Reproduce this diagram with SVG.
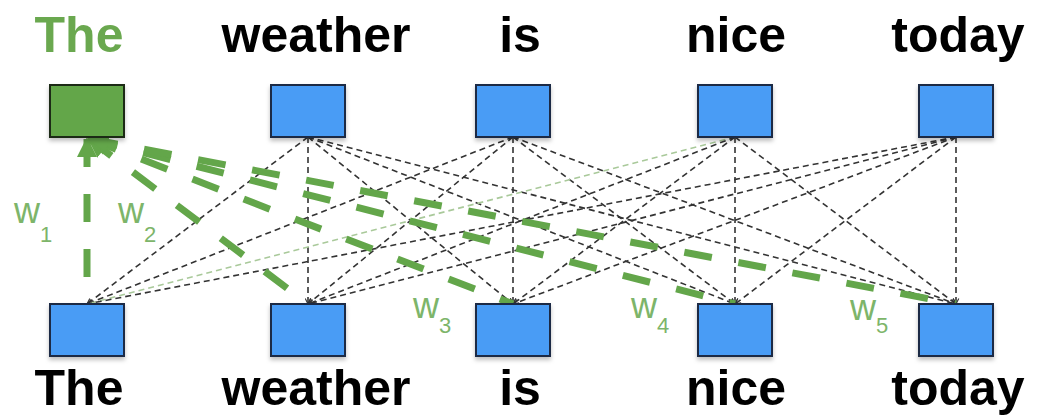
<svg xmlns="http://www.w3.org/2000/svg" width="1038" height="416" viewBox="0 0 1038 416">
  <style>
    .word { font-family: "Liberation Sans", Arial, sans-serif; font-weight: bold; font-size: 50px; text-anchor: middle; fill: #000; }
    .word.focus { fill: #6aa84f; }
    .box { fill: #4a9cf5; stroke: #1b2a45; stroke-width: 2; filter: url(#shadow); }
    .box.focus { fill: #63a64a; stroke: #1c2a18; }
    .link { fill: none; stroke: #333; stroke-width: 1.6; stroke-dasharray: 6 4; marker-end: url(#tip); }
    .link.faint { stroke: #a9c99a; }
    .weight { fill: none; stroke: #63a64a; stroke-width: 7; stroke-dasharray: 28 27; marker-start: url(#head); }
    .wlabel { font-family: "Liberation Sans", Arial, sans-serif; font-size: 36px; fill: #7db56a; }
    .wsub { font-size: 22px; }
  </style>
  <defs>
    <filter id="shadow" x="-20%" y="-20%" width="140%" height="150%">
      <feDropShadow dx="0" dy="3" stdDeviation="2" flood-color="#000" flood-opacity="0.25"/>
    </filter>
    <marker id="tip" viewBox="0 0 10 10" refX="9" refY="5" markerWidth="7" markerHeight="7" markerUnits="userSpaceOnUse" orient="auto">
      <path d="M1,1 L9,5 L1,9" fill="none" stroke="#333" stroke-width="1.6"/>
    </marker>
    <marker id="head" viewBox="0 0 10 10" refX="9" refY="5" markerWidth="20" markerHeight="20" markerUnits="userSpaceOnUse" orient="auto-start-reverse">
      <path d="M0,0 L10,5 L0,10 Z" fill="#63a64a"/>
    </marker>
  </defs>

  <!-- connectors: every upper word attends to every lower word -->
  <g id="connectors">
    <!-- weather -->
    <path class="link" d="M308,137 L87,304"/>
    <path class="link" d="M308,137 L308,304"/>
    <path class="link" d="M308,137 L513,304"/>
    <path class="link" d="M308,137 L735,304"/>
    <path class="link" d="M308,137 L956,304"/>
    <!-- is -->
    <path class="link" d="M513,137 L87,304"/>
    <path class="link" d="M513,137 L308,304"/>
    <path class="link" d="M513,137 L513,304"/>
    <path class="link" d="M513,137 L735,304"/>
    <path class="link" d="M513,137 L956,304"/>
    <!-- nice -->
    <path class="link faint" d="M735,137 L87,304"/>
    <path class="link" d="M735,137 L308,304"/>
    <path class="link" d="M735,137 L513,304"/>
    <path class="link" d="M735,137 L735,304"/>
    <path class="link" d="M735,137 L956,304"/>
    <!-- today -->
    <path class="link" d="M956,137 L87,304"/>
    <path class="link" d="M956,137 L308,304"/>
    <path class="link" d="M956,137 L513,304"/>
    <path class="link" d="M956,137 L735,304"/>
    <path class="link" d="M956,137 L956,304"/>
    <!-- weights into "The" -->
    <path class="weight" d="M87,139 L87,304"/>
    <path class="weight" d="M89,139 L308,304"/>
    <path class="weight" d="M90,139 L513,304"/>
    <path class="weight" d="M90,139 L735,304"/>
    <path class="weight" d="M90,139 L956,304"/>
  </g>

  <g id="weight-labels">
    <text class="wlabel" x="14" y="223">w<tspan class="wsub" dy="19">1</tspan></text>
    <text class="wlabel" x="118" y="223">w<tspan class="wsub" dy="19">2</tspan></text>
    <text class="wlabel" x="413" y="318">w<tspan class="wsub" dy="15">3</tspan></text>
    <text class="wlabel" x="631" y="318">w<tspan class="wsub" dy="15">4</tspan></text>
    <text class="wlabel" x="850" y="320">w<tspan class="wsub" dy="13">5</tspan></text>
  </g>

  <!-- upper row -->
  <g id="top-the">
    <text class="word focus" x="79" y="52">The</text>
    <rect class="box focus" x="50" y="85" width="74" height="52"/>
  </g>
  <g id="top-weather">
    <text class="word" x="316" y="52">weather</text>
    <rect class="box" x="271" y="85" width="74" height="52"/>
  </g>
  <g id="top-is">
    <text class="word" x="520" y="52">is</text>
    <rect class="box" x="476" y="85" width="74" height="52"/>
  </g>
  <g id="top-nice">
    <text class="word" x="736" y="52">nice</text>
    <rect class="box" x="698" y="85" width="74" height="52"/>
  </g>
  <g id="top-today">
    <text class="word" x="958" y="52">today</text>
    <rect class="box" x="919" y="85" width="74" height="52"/>
  </g>

  <!-- lower row -->
  <g id="bottom-the">
    <rect class="box" x="50" y="304" width="74" height="52"/>
    <text class="word" x="79" y="405">The</text>
  </g>
  <g id="bottom-weather">
    <rect class="box" x="271" y="304" width="74" height="52"/>
    <text class="word" x="316" y="405">weather</text>
  </g>
  <g id="bottom-is">
    <rect class="box" x="476" y="304" width="74" height="52"/>
    <text class="word" x="520" y="405">is</text>
  </g>
  <g id="bottom-nice">
    <rect class="box" x="698" y="304" width="74" height="52"/>
    <text class="word" x="736" y="405">nice</text>
  </g>
  <g id="bottom-today">
    <rect class="box" x="919" y="304" width="74" height="52"/>
    <text class="word" x="958" y="405">today</text>
  </g>
</svg>
